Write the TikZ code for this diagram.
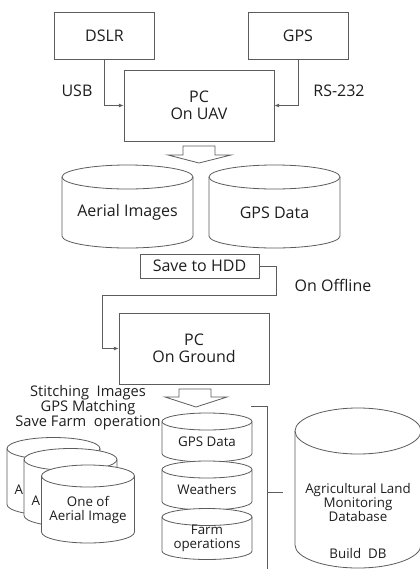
\documentclass[tikz,border=0pt]{standalone}
\usepackage{fontspec}
\setmainfont{Open Sans}
\usetikzlibrary{arrows.meta,positioning}
\definecolor{ink}{HTML}{1E1E1E}
\definecolor{edge}{HTML}{5C5C5C}

% [node options]{name}{cx}{cy}{half width}{half height}{rim}{text}, all in px
\newcommand\dbdrum[8][]{%
  \path[fat] ({#3-#5},{#4-#6+#7}) -- ({#3-#5},{#4+#6-#7})
    arc[start angle=180, end angle=360, x radius={#5*0.75pt}, y radius={#7*0.75pt}]
    -- ({#3+#5},{#4-#6+#7})
    arc[start angle=0, end angle=180, x radius={#5*0.75pt}, y radius={#7*0.75pt}]
    -- cycle;
  \draw[wire] ({#3-#5},{#4-#6+#7})
    arc[start angle=180, end angle=360, x radius={#5*0.75pt}, y radius={#7*0.75pt}];
  \node[align=center, #1] (#2) at ({#3},{#4+#7/2}) {#8};
}

\begin{document}
\begin{tikzpicture}[
  x=0.75pt, y=-0.75pt,
  font=\fontsize{12pt}{12.75pt}\selectfont,
  text=ink,
  box/.style={
    draw=edge,
    line width=0.6pt,
    align=center,
    inner sep=0pt
  },
  unit/.style={box, minimum width=75pt, minimum height=35.25pt},
  pc/.style={box, minimum width=112.5pt, minimum height=53.25pt},
  arrow/.style={-{Latex[length=3.5pt,width=3pt]}, draw=edge, line width=0.6pt},
  wire/.style={draw=edge, line width=0.6pt},
  fat/.style={draw=edge, line width=0.6pt, fill=white},
  meta/.style={text=ink},
  small/.style={font=\fontsize{10pt}{10.5pt}\selectfont, align=center}
]
\useasboundingbox (0,0) rectangle (420,569);

% on the UAV
\node[unit] (dslr) at (104.5,35.5) {DSLR};
\node[unit] (gps) at (298,35.5) {GPS};
\node[pc] (pcuav) at (199,105.5) {PC\\On UAV};

\draw[arrow] (dslr) |- (pcuav);
\draw[arrow] (gps) |- (pcuav);
\node[meta] (usb) at (77,91) {USB};
\node[meta] (rs) at (339,91) {RS-232};

\draw[fat] (183,146) -- (215,146) -- (215,155) -- (231,155) -- (199,163) -- (168,155) -- (183,155) -- cycle;

\dbdrum{aerial}{127.5}{206.5}{65.5}{41.5}{12}{Aerial Images}
\dbdrum{gpsdata}{274.5}{206.5}{65.5}{41.5}{12}{GPS Data}

\node[box, minimum width=89.25pt, minimum height=18pt] (hdd) at (199.5,266) {Save to HDD};

% offline transfer
\node[pc] (pcground) at (194,348.5) {PC\\On Ground};
\coordinate (bendA) at (276,295);
\coordinate (bendB) at (102,295);
\draw[arrow] (hdd) -| (bendA) -- (bendB) |- (pcground);
\node[meta] (offline) at (333,285) {On Offline};

\draw[fat] (179,389) -- (211,389) -- (211,397) -- (227,397) -- (196,407) -- (165,397) -- (179,397) -- cycle;

\node[meta, align=center, font=\fontsize{11pt}{11.25pt}\selectfont] (steps) at (88,408) {Stitching\ \ Images\\GPS Matching\\Save Farm\ \ operation};

% images
\dbdrum[small, xshift=-26pt, yshift=-6pt]{img1}{53.5}{476.5}{46.5}{39}{11}{A}
\dbdrum[small, xshift=-26pt, yshift=-6pt]{img2}{70.5}{487.5}{46.5}{39}{11}{A}
\dbdrum[small]{img3}{88}{504}{46.5}{39}{11}{One of\\Aerial Image}

% records
\dbdrum[small]{gpsrec}{207}{437.5}{45}{24.5}{8.5}{GPS Data}
\dbdrum[small]{weather}{207}{485.5}{45}{24.5}{8.5}{Weathers}
\dbdrum[small]{farm}{207}{534}{45}{25.5}{8.5}{Farm\\operations}

\coordinate (brtop) at (251,406);
\coordinate (brbot) at (267,569);
\coordinate (brmid) at (267,492);
\coordinate (brtip) at (283,492);
\draw[wire] (brtop) -| (brbot);
\draw[wire] (brmid) -- (brtip);

\dbdrum[small, yshift=-16pt]{landdb}{358}{488}{63}{80}{23}{Agricultural Land\\Monitoring\\Database\\[17pt]Build\ \ DB}
\end{tikzpicture}
\end{document}
